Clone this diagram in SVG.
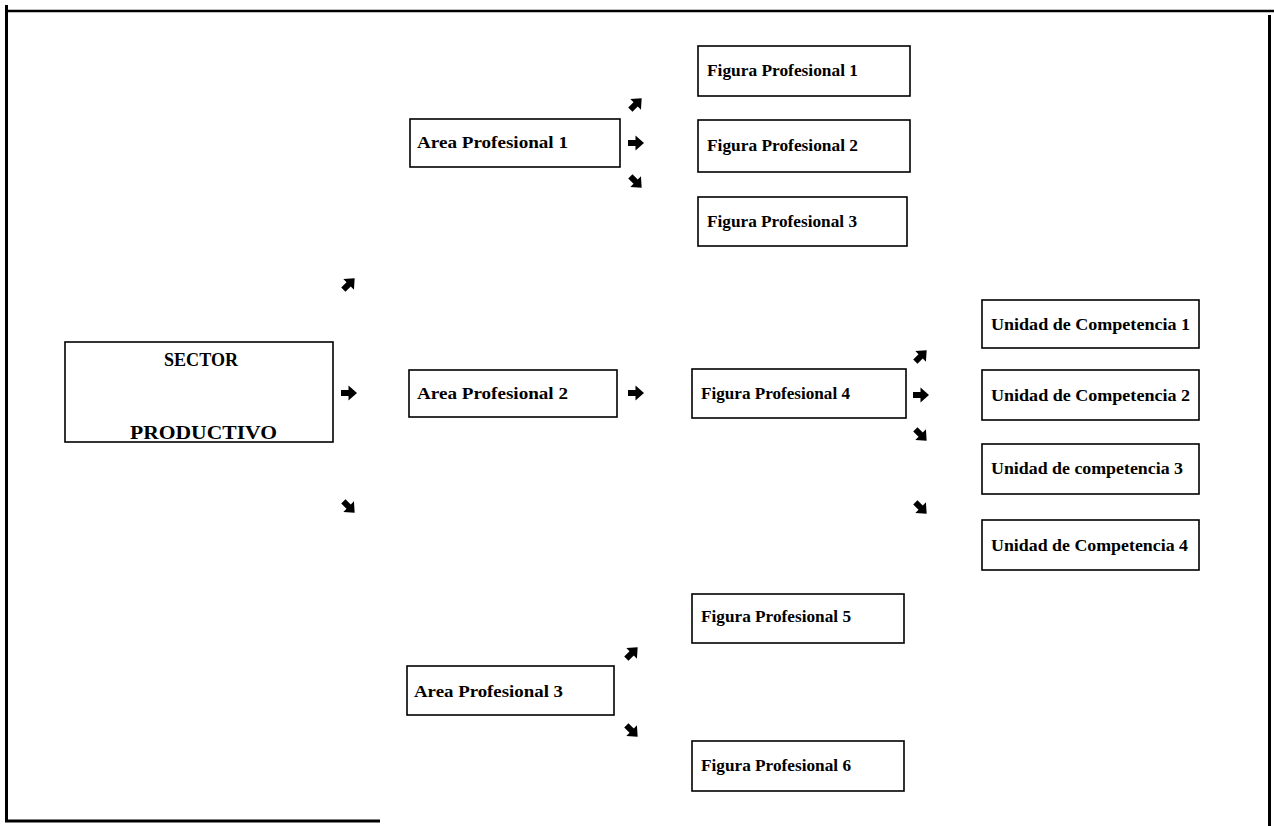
<svg xmlns="http://www.w3.org/2000/svg" xmlns:xlink="http://www.w3.org/1999/xlink" width="1274" height="826" viewBox="0 0 1274 826">
<style>
.box{fill:#fff;stroke:#000;stroke-width:1.6}
.t{font-family:"Liberation Serif","Times New Roman",serif;font-size:17px;font-weight:bold;fill:#000}
.tb{font-family:"Liberation Serif","Times New Roman",serif;font-size:19px;font-weight:bold;fill:#000}
.frame{stroke:#000;fill:none}
</style>
<defs>
<path id="arr" d="M-8,-3 L-0.5,-3 L-0.5,-7.5 L8,0 L-0.5,7.5 L-0.5,3 L-8,3 Z" fill="#000"/>
</defs>
<rect width="1274" height="826" fill="#fff"/>
<g id="frame" class="frame">
<line x1="6" y1="11" x2="1274" y2="11" stroke-width="2.5"/>
<line x1="6.5" y1="5" x2="6.5" y2="822" stroke-width="3"/>
<line x1="5" y1="821" x2="380" y2="821" stroke-width="3"/>
<line x1="1269.5" y1="15" x2="1269.5" y2="826" stroke-width="3"/>
</g>
<g id="sector">
<rect class="box" x="65" y="342" width="268" height="100"/>
<text class="tb" x="164" y="366" textLength="74" lengthAdjust="spacingAndGlyphs">SECTOR</text>
<text class="tb" x="130" y="439" font-size="20" textLength="147" lengthAdjust="spacingAndGlyphs">PRODUCTIVO</text>
</g>
<g id="area1">
<rect class="box" x="410" y="119" width="210" height="48"/>
<text class="t" x="417" y="148" textLength="151" lengthAdjust="spacingAndGlyphs">Area Profesional 1</text>
</g>
<g id="area2">
<rect class="box" x="409" y="370" width="208" height="47"/>
<text class="t" x="417" y="399" textLength="151" lengthAdjust="spacingAndGlyphs">Area Profesional 2</text>
</g>
<g id="area3">
<rect class="box" x="407" y="666" width="207" height="49"/>
<text class="t" x="414" y="697" textLength="149" lengthAdjust="spacingAndGlyphs">Area Profesional 3</text>
</g>
<g id="fig1">
<rect class="box" x="698" y="46" width="212" height="50"/>
<text class="t" x="707" y="76" textLength="151" lengthAdjust="spacingAndGlyphs">Figura Profesional 1</text>
</g>
<g id="fig2">
<rect class="box" x="698" y="120" width="212" height="52"/>
<text class="t" x="707" y="151" textLength="151" lengthAdjust="spacingAndGlyphs">Figura Profesional 2</text>
</g>
<g id="fig3">
<rect class="box" x="698" y="197" width="209" height="49"/>
<text class="t" x="707" y="227" textLength="150" lengthAdjust="spacingAndGlyphs">Figura Profesional 3</text>
</g>
<g id="fig4">
<rect class="box" x="692" y="369" width="214" height="49"/>
<text class="t" x="701" y="399" textLength="149" lengthAdjust="spacingAndGlyphs">Figura Profesional 4</text>
</g>
<g id="fig5">
<rect class="box" x="692" y="594" width="212" height="49"/>
<text class="t" x="701" y="622" textLength="150" lengthAdjust="spacingAndGlyphs">Figura Profesional 5</text>
</g>
<g id="fig6">
<rect class="box" x="692" y="741" width="212" height="50"/>
<text class="t" x="701" y="771" textLength="150" lengthAdjust="spacingAndGlyphs">Figura Profesional 6</text>
</g>
<g id="uc1">
<rect class="box" x="982" y="300" width="217" height="48"/>
<text class="t" x="991" y="330" textLength="199" lengthAdjust="spacingAndGlyphs">Unidad de Competencia 1</text>
</g>
<g id="uc2">
<rect class="box" x="982" y="370" width="217" height="50"/>
<text class="t" x="991" y="401" textLength="199" lengthAdjust="spacingAndGlyphs">Unidad de Competencia 2</text>
</g>
<g id="uc3">
<rect class="box" x="982" y="444" width="217" height="50"/>
<text class="t" x="991" y="474" textLength="192" lengthAdjust="spacingAndGlyphs">Unidad de competencia 3</text>
</g>
<g id="uc4">
<rect class="box" x="982" y="520" width="217" height="50"/>
<text class="t" x="991" y="551" textLength="197" lengthAdjust="spacingAndGlyphs">Unidad de Competencia 4</text>
</g>
<g id="connectors">
<use xlink:href="#arr" transform="translate(349,284) rotate(-45)"/>
<use xlink:href="#arr" transform="translate(349,393)"/>
<use xlink:href="#arr" transform="translate(349,507) rotate(45)"/>
<use xlink:href="#arr" transform="translate(636,104) rotate(-45)"/>
<use xlink:href="#arr" transform="translate(636,143)"/>
<use xlink:href="#arr" transform="translate(636,182) rotate(45)"/>
<use xlink:href="#arr" transform="translate(636,393)"/>
<use xlink:href="#arr" transform="translate(921,356) rotate(-45)"/>
<use xlink:href="#arr" transform="translate(921,395)"/>
<use xlink:href="#arr" transform="translate(921,435) rotate(45)"/>
<use xlink:href="#arr" transform="translate(921,508) rotate(45)"/>
<use xlink:href="#arr" transform="translate(632,653) rotate(-45)"/>
<use xlink:href="#arr" transform="translate(632,731) rotate(45)"/>
</g>
</svg>
